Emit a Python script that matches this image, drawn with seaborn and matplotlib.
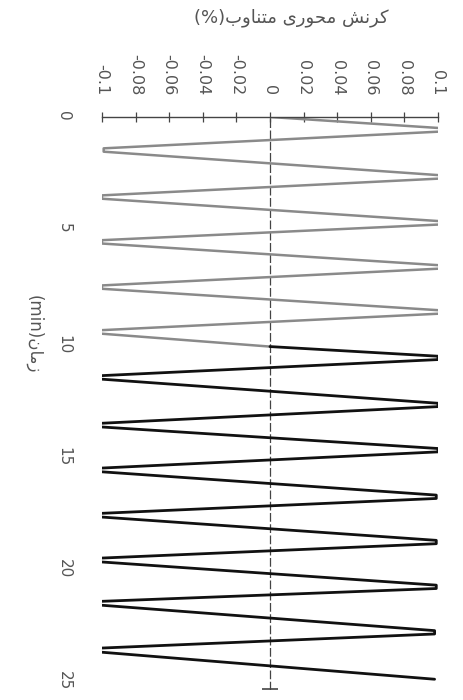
import numpy as np
import pandas as pd
import matplotlib
matplotlib.use('Agg')
import matplotlib.pyplot as plt
import seaborn as sns

# peak times (min): when the tip is reached and when it is left
right_in = [0.50, 2.60, 4.65, 6.62, 8.63, 10.68, 12.78, 14.80, 16.88, 18.90, 20.90, 22.93]
right_out = [0.65, 2.75, 4.80, 6.77, 8.78, 10.83, 12.93, 14.95, 17.03, 19.05, 21.05, 23.08]
right_val = [0.102, 0.101, 0.101, 0.101, 0.101, 0.100, 0.100, 0.100, 0.099, 0.099, 0.099, 0.098]
left_in = [1.40, 3.50, 5.50, 7.52, 9.52, 11.55, 13.68, 15.68, 17.70, 19.70, 21.63, 23.72]
left_out = [1.55, 3.65, 5.65, 7.67, 9.67, 11.70, 13.83, 15.83, 17.85, 19.85, 21.78, 23.87]
left_val = [-0.099, -0.100, -0.100, -0.100, -0.101, -0.101, -0.102, -0.102, -0.102, -0.103, -0.103, -0.104]
start_point = (0.0, 0.0)
end_point = (25.1, 0.098)
colour_change = (10.25, 0.0)   # trace turns from grey to black here

strain_ticks = [-0.1, -0.08, -0.06, -0.04, -0.02, 0, 0.02, 0.04, 0.06, 0.08, 0.1]
strain_labels = ['-0.1', '-0.08', '-0.06', '-0.04', '-0.02', '0', '0.02', '0.04', '0.06', '0.08', '0.1']
time_ticks = [0, 5, 10, 15, 20, 25]
time_labels = ['0', '5', '10', '15', '20', '25']


# matplotlib does no arabic shaping, so pick presentation forms by hand
FORMS = {  # isolated, final, initial, medial
    'ک': '\ufb8e\ufb8f\ufb90\ufb91', 'ر': '\ufead\ufeae\ufead\ufeae',
    'ن': '\ufee5\ufee6\ufee7\ufee8', 'ش': '\ufeb5\ufeb6\ufeb7\ufeb8',
    'م': '\ufee1\ufee2\ufee3\ufee4', 'ح': '\ufea1\ufea2\ufea3\ufea4',
    'و': '\ufeed\ufeee\ufeed\ufeee', 'ی': '\ufbfc\ufbfd\ufbfe\ufbff',
    'ت': '\ufe95\ufe96\ufe97\ufe98', 'ا': '\ufe8d\ufe8e\ufe8d\ufe8e',
    'ب': '\ufe8f\ufe90\ufe91\ufe92', 'ز': '\ufeaf\ufeb0\ufeaf\ufeb0',
}
NO_LEFT_JOIN = set('اورزد')


def shape(text):
    out = []
    for i, ch in enumerate(text):
        if ch not in FORMS:
            out.append(ch)
            continue
        prev = text[i - 1] if i > 0 else ' '
        nxt = text[i + 1] if i + 1 < len(text) else ' '
        p = prev in FORMS and prev not in NO_LEFT_JOIN
        n = nxt in FORMS and ch not in NO_LEFT_JOIN
        idx = 3 if (p and n) else 1 if p else 2 if n else 0
        out.append(FORMS[ch][idx])
    return ''.join(out[::-1])


title_text = '(%)' + shape('کرنش محوری متناوب')
time_text = '(min)' + shape('زمان')

# build the trace in time order
rows = [start_point]
for a, b, v in zip(right_in, right_out, right_val):
    rows += [(a, v), (b, v)]
for a, b, v in zip(left_in, left_out, left_val):
    rows += [(a, v), (b, v)]
rows += [colour_change, end_point]
df = pd.DataFrame(rows, columns=['time', 'strain']).sort_values('time').reset_index(drop=True)
grey_part = df[df['time'] <= colour_change[0]]
black_part = df[df['time'] >= colour_change[0]]

sns.set_style('white')
plt.rcParams['font.family'] = ['DejaVu Sans']

fig = plt.figure(figsize=(4.64, 7.0), dpi=100)
ax = fig.add_axes([0.2198, 0.0143, 0.7241, 0.8186])

sns.lineplot(data=grey_part, x='strain', y='time', sort=False, estimator=None, orient='y',
             color='#8a8a8a', lw=1.8, ax=ax)
sns.lineplot(data=black_part, x='strain', y='time', sort=False, estimator=None, orient='y',
             color='#111111', lw=2.0, ax=ax)

tmax = 25.58
ax.axvline(0, color='#444444', lw=0.9, ls=(0, (7, 2)), zorder=1)
ax.plot(0, tmax - 0.05, marker='_', ms=11, mew=1.2, color='#444444', clip_on=False)

ax.set_xlim(-0.1, 0.1)
ax.set_ylim(tmax, 0)

for s in ['left', 'right', 'bottom']:
    ax.spines[s].set_visible(False)
ax.spines['top'].set_color('#444444')
ax.spines['top'].set_linewidth(1.0)

ax.set_xticks(strain_ticks)
ax.set_xticklabels(strain_labels)
ax.xaxis.tick_top()
ax.tick_params(axis='x', direction='inout', length=7, width=0.9, color='#444444',
               labelcolor='#555555', labelsize=11.5, labelrotation=-90, pad=12)

ax.set_yticks(time_ticks)
ax.set_yticklabels(time_labels)
ax.tick_params(axis='y', length=0, labelcolor='#555555', labelsize=11, labelrotation=-90, pad=22)

ax.set_xlabel('')
ax.set_ylabel(time_text, rotation=-90, fontsize=12, color='#555555')
ax.yaxis.set_label_coords(-0.23, 0.62)

fig.text(0.628, 1 - 18 / 700, title_text, ha='center', va='center', fontsize=13, color='#555555')

plt.savefig('out.png', dpi=100)
